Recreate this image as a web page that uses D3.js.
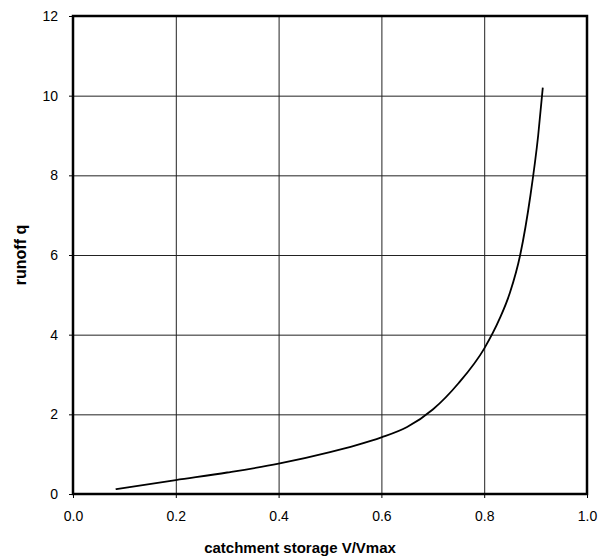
<!DOCTYPE html>
<html>
<head>
<meta charset="utf-8">
<script src="https://cdn.jsdelivr.net/npm/d3@7"></script>
<style>
  html, body { margin: 0; padding: 0; background: #fff; overflow: hidden; }
  svg { display: block; }
  text { font-family: "Liberation Sans", Arial, sans-serif; fill: #000; }
  .grid line { stroke: #222; stroke-width: 1; }
  .grid path { display: none; }
  .axis path { display: none; }
  .axis line { stroke: #000; }
  .axis text { font-size: 14px; }
  .axis-label { font-weight: bold; }
</style>
</head>
<body>
<div id="chart"></div>
<script>
// Chart size and plot margins
const width = 603;
const height = 560;
const margin = { top: 16, right: 16, bottom: 66, left: 73 };
const innerWidth = width - margin.left - margin.right;
const innerHeight = height - margin.top - margin.bottom;

// Data
const storage = [0.083, 0.2, 0.3, 0.4, 0.5, 0.55, 0.6, 0.65, 0.7, 0.75, 0.8, 0.83, 0.85, 0.87, 0.89, 0.905, 0.914];
const runoff  = [0.12, 0.35, 0.54, 0.76, 1.05, 1.22, 1.42, 1.68, 2.12, 2.78, 3.65, 4.4, 5.05, 6.0, 7.5, 9.0, 10.2];

const xTicks = [0, 0.2, 0.4, 0.6, 0.8, 1.0];
const yTicks = [0, 2, 4, 6, 8, 10, 12];

const points = storage.map((v, i) => ({ x: v, y: runoff[i] }));

const svg = d3.select('#chart')
  .append('svg')
  .attr('width', width)
  .attr('height', height);

const g = svg.append('g')
  .attr('transform', `translate(${margin.left},${margin.top})`);

const xScale = d3.scaleLinear().domain([0, 1]).range([0, innerWidth]);
const yScale = d3.scaleLinear().domain([0, 12]).range([innerHeight, 0]);

// Gridlines
g.append('g')
  .attr('class', 'grid')
  .attr('transform', `translate(0,${innerHeight})`)
  .call(d3.axisBottom(xScale).tickValues(xTicks).tickSize(-innerHeight).tickFormat(''));

g.append('g')
  .attr('class', 'grid')
  .call(d3.axisLeft(yScale).tickValues(yTicks).tickSize(-innerWidth).tickFormat(''));

// Axes with small outward ticks
g.append('g')
  .attr('class', 'axis')
  .attr('transform', `translate(0,${innerHeight})`)
  .call(d3.axisBottom(xScale).tickValues(xTicks).tickSize(4).tickPadding(13).tickFormat(d3.format('.1f')));

g.append('g')
  .attr('class', 'axis')
  .call(d3.axisLeft(yScale).tickValues(yTicks).tickSize(4).tickPadding(11).tickFormat(d3.format('d')));

// Plot frame
g.append('rect')
  .attr('width', innerWidth)
  .attr('height', innerHeight)
  .style('fill', 'none')
  .style('stroke', '#000')
  .style('stroke-width', 2.5);

// Runoff curve
const line = d3.line()
  .x(d => xScale(d.x))
  .y(d => yScale(d.y))
  .curve(d3.curveMonotoneX);

g.append('path')
  .datum(points)
  .attr('d', line)
  .style('fill', 'none')
  .style('stroke', '#000')
  .style('stroke-width', 1.8);

// Axis titles
svg.append('text')
  .attr('class', 'axis-label')
  .attr('x', 300)
  .attr('y', 553)
  .attr('text-anchor', 'middle')
  .style('font-size', '15px')
  .text('catchment storage V/Vmax');

svg.append('text')
  .attr('class', 'axis-label')
  .attr('transform', 'rotate(-90)')
  .attr('x', -(margin.top + innerHeight / 2))
  .attr('y', 26)
  .attr('text-anchor', 'middle')
  .style('font-size', '16px')
  .text('runoff q');
</script>
</body>
</html>
